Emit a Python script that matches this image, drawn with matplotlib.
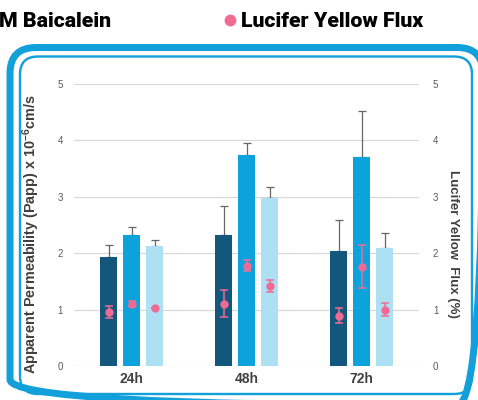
import matplotlib

matplotlib.use("Agg")
import matplotlib.pyplot as plt
import numpy as np
from matplotlib.patches import FancyBboxPatch

plt.rcParams["font.family"] = ["Liberation Sans", "DejaVu Sans"]
plt.rcParams["mathtext.fontset"] = "custom"
plt.rcParams["mathtext.rm"] = "Liberation Sans:bold"
plt.rcParams["mathtext.bf"] = "Liberation Sans:bold"

# --- data ---
categories = ["24h", "48h", "72h"]

papp_dark = [1.93, 2.32, 2.04]
papp_dark_err = [0.21, 0.51, 0.54]
papp_mid = [2.32, 3.75, 3.70]
papp_mid_err = [0.14, 0.21, 0.82]
papp_light = [2.13, 2.98, 2.09]
papp_light_err = [0.10, 0.19, 0.27]

ly_dark = [0.96, 1.10, 0.89]
ly_dark_err = [0.11, 0.24, 0.13]
ly_mid = [1.10, 1.78, 1.76]
ly_mid_err = [0.05, 0.10, 0.38]
ly_light = [1.02, 1.42, 1.00]
ly_light_err = [0.0, 0.10, 0.12]

y_ticks = [0, 1, 2, 3, 4, 5]

DARK = "#13577c"
MID = "#0ca3dc"
LIGHT = "#aee0f4"
PINK = "#f06b94"
FRAME = "#12a0da"
GRID = "#d9d9d9"
TICK_TXT = "#595959"
LABEL_TXT = "#404040"

W, H = 478, 400
fig = plt.figure(figsize=(W / 100, H / 100), dpi=100)

# background layer in pixel units for the rounded frames and header
bg = fig.add_axes([0, 0, 1, 1], zorder=-1)
bg.set_xlim(0, W)
bg.set_ylim(H, 0)
bg.axis("off")

outer = FancyBboxPatch((10, 47.5), 473, 358, boxstyle="round,pad=0,rounding_size=26",
                       fill=False, ec=FRAME, lw=7 * 0.72)
inner = FancyBboxPatch((20, 56.5), 452, 337.5, boxstyle="round,pad=0,rounding_size=18",
                       fill=False, ec=FRAME, lw=2.4 * 0.72)
bg.add_patch(outer)
bg.add_patch(inner)

bg.text(-1, 27, "M Baicalein", fontsize=15.3, fontweight="black", family="Roboto",
        va="baseline", ha="left", color="black")
bg.plot([230], [19.5], "o", ms=8.5, color=PINK, mec="none")
bg.text(241, 27, "Lucifer Yellow Flux", fontsize=15.3, fontweight="black", family="Roboto",
        va="baseline", ha="left", color="black")

# --- main chart ---
ax = fig.add_axes([74 / W, 34 / H, 345 / W, 282 / H])
ax.set_facecolor("none")
x = np.arange(len(categories))
off = 0.2
bw = 0.14

err_kw = dict(ecolor="#666666", elinewidth=0.9, capsize=3, capthick=0.9)
for dx, vals, errs, col in [(-off, papp_dark, papp_dark_err, DARK),
                            (0, papp_mid, papp_mid_err, MID),
                            (off, papp_light, papp_light_err, LIGHT)]:
    ax.bar(x + dx, vals, bw, color=col, zorder=2)
    ax.errorbar(x + dx, vals, yerr=[np.zeros(len(errs)), errs], fmt="none", zorder=1, **err_kw)

ax.set_xlim(-0.5, 2.5)
ax.set_ylim(0, 5)
ax.set_yticks(y_ticks)
ax.set_xticks(x)
ax.set_xticklabels(categories, fontsize=10, fontweight="bold", color=LABEL_TXT)
ax.yaxis.grid(True, color=GRID, lw=0.9, zorder=0)
ax.set_axisbelow(True)
for s in ax.spines.values():
    s.set_visible(False)
ax.tick_params(axis="both", length=0)
ax.tick_params(axis="y", labelsize=7, labelcolor=TICK_TXT, pad=8)
ax.tick_params(axis="x", pad=4)
ax.set_ylabel(r"Apparent Permeability (Papp) x 10$^{\mathbf{-6}}$cm/s", fontsize=10.4,
              fontweight="bold", color=LABEL_TXT)
ax.yaxis.set_label_coords(-0.093, 0.468)

ax2 = ax.twinx()
ax2.set_ylim(0, 5)
ax2.set_yticks(y_ticks)
for s in ax2.spines.values():
    s.set_visible(False)
ax2.tick_params(axis="y", length=0, labelsize=7, labelcolor=TICK_TXT, pad=10)
for dx, vals, errs in [(-off, ly_dark, ly_dark_err),
                       (0, ly_mid, ly_mid_err),
                       (off, ly_light, ly_light_err)]:
    ax2.errorbar(x + dx, vals, yerr=errs, fmt="o", color=PINK, ms=6, mec="none",
                 elinewidth=1.1, capsize=3, capthick=1.1, zorder=3)
ax2.set_ylabel("Lucifer Yellow  Flux (%)", fontsize=9.5, fontweight="bold",
               color=LABEL_TXT, rotation=-90, va="center")
ax2.yaxis.set_label_coords(1.099, 0.433)

fig.savefig("out.png", dpi=100)
